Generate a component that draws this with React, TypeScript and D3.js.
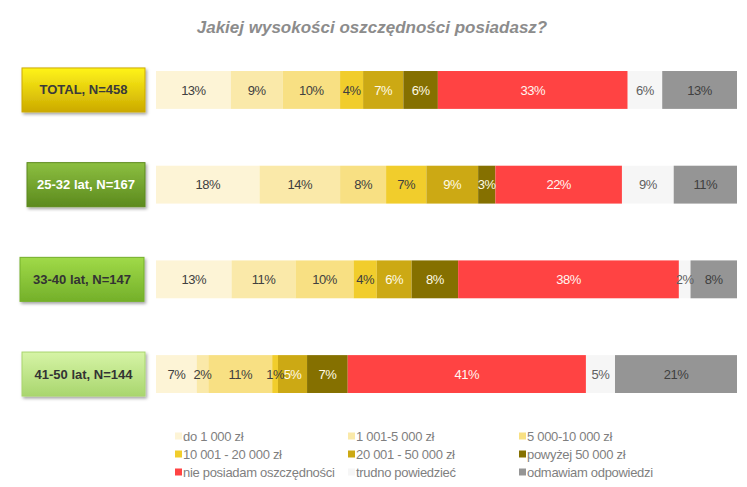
import React, { useEffect, useRef } from 'react'
import * as d3 from 'd3'

// Savings brackets, in stacking order
const brackets = [
  'do 1 000 zł',
  '1 001-5 000 zł',
  '5 000-10 000 zł',
  '10 001 - 20 000 zł',
  '20 001 - 50 000 zł',
  'powyżej 50 000 zł',
  'nie posiadam oszczędności',
  'trudno powiedzieć',
  'odmawiam odpowiedzi',
]

const groups = ['TOTAL, N=458', '25-32 lat, N=167', '33-40 lat, N=147', '41-50 lat, N=144']

// Percent answers per group, one value per bracket
const totalValues = [13, 9, 10, 4, 7, 6, 33, 6, 13]
const age2532Values = [18, 14, 8, 7, 9, 3, 22, 9, 11]
const age3340Values = [13, 11, 10, 4, 6, 8, 38, 2, 8]
const age4150Values = [7, 2, 11, 1, 5, 7, 41, 5, 21]

const groupValues = [totalValues, age2532Values, age3340Values, age4150Values]

const bracketColors = [
  '#FDF4D6',
  '#FAE9A9',
  '#F8E083',
  '#F1CD2C',
  '#CCA914',
  '#857000',
  '#FF4343',
  '#F6F6F6',
  '#959595',
]
const labelColors = [
  '#404040',
  '#404040',
  '#404040',
  '#404040',
  '#FFFBE6',
  '#FFFBE6',
  '#FFF6F0',
  '#606060',
  '#404040',
]

// Gradient stops, text color and box extent for the group badges
const badgeTop = ['#FFF41A', '#8CBF40', '#A0DA48', '#D6F4A6']
const badgeBottom = ['#CCAA00', '#5C8A1E', '#74B02A', '#A9D66E']
const badgeText = ['#3A3A3A', '#FFFFFF', '#333333', '#333333']
const badgeLeft = [22, 27, 20, 22]
const badgeRight = [145, 145, 144, 145]

const W = 747
const H = 487
const FONT = "'Liberation Sans', Arial, sans-serif"

export default function App() {
  const svgRef = useRef<SVGSVGElement>(null)

  useEffect(() => {
    if (!svgRef.current) return
    const svg = d3.select(svgRef.current)
    svg.selectAll('*').remove()

    const rows = groups.map((g, i) => {
      const row: Record<string, any> = { group: g }
      brackets.forEach((b, j) => (row[b] = groupValues[i][j]))
      return row
    })

    const series = d3
      .stack<Record<string, any>>()
      .keys(brackets)
      .offset(d3.stackOffsetExpand)(rows)

    const x = d3.scaleLinear().domain([0, 1]).range([156, 737])
    const y = d3
      .scaleBand()
      .domain(groups)
      .range([42.6, 421.4])
      .paddingInner(0.6)
      .paddingOuter(0.3)

    const defs = svg.append('defs')
    const shadow = defs
      .append('filter')
      .attr('id', 'badge-shadow')
      .attr('x', '-10%')
      .attr('y', '-20%')
      .attr('width', '130%')
      .attr('height', '160%')
    shadow
      .append('feDropShadow')
      .attr('dx', 1.5)
      .attr('dy', 2)
      .attr('stdDeviation', 1.5)
      .attr('flood-color', '#000')
      .attr('flood-opacity', 0.35)

    groups.forEach((_, i) => {
      const grad = defs
        .append('linearGradient')
        .attr('id', `badge-grad-${i}`)
        .attr('x1', 0)
        .attr('y1', 0)
        .attr('x2', 0)
        .attr('y2', 1)
      grad.append('stop').attr('offset', '0%').attr('stop-color', badgeTop[i])
      grad.append('stop').attr('offset', '100%').attr('stop-color', badgeBottom[i])
    })

    // Title
    svg
      .append('text')
      .attr('x', 372)
      .attr('y', 33)
      .attr('text-anchor', 'middle')
      .attr('font-family', FONT)
      .attr('font-size', 17)
      .attr('font-weight', 'bold')
      .attr('font-style', 'italic')
      .attr('fill', '#8C8C8C')
      .text('Jakiej wysokości oszczędności posiadasz?')

    // Stacked segments
    const layer = svg
      .append('g')
      .selectAll('g')
      .data(series)
      .join('g')
      .attr('fill', (_, i) => bracketColors[i])

    layer
      .selectAll('rect')
      .data((d) => d)
      .join('rect')
      .attr('x', (d) => x(d[0]))
      .attr('y', (d) => y(d.data.group as string)!)
      .attr('width', (d) => x(d[1]) - x(d[0]))
      .attr('height', y.bandwidth())

    // Segment value labels
    series.forEach((s, i) => {
      svg
        .append('g')
        .selectAll('text')
        .data(s)
        .join('text')
        .attr('x', (d) => (x(d[0]) + x(d[1])) / 2)
        .attr('y', (d) => y(d.data.group as string)! + y.bandwidth() / 2)
        .attr('dy', '0.35em')
        .attr('text-anchor', 'middle')
        .attr('font-family', FONT)
        .attr('font-size', 13)
        .attr('letter-spacing', -0.5)
        .attr('fill', labelColors[i])
        .text((d) => `${d.data[s.key]}%`)
    })

    // Group badges on the left
    const badge = svg
      .append('g')
      .selectAll('g')
      .data(groups)
      .join('g')
      .attr('transform', (g, i) => `translate(${badgeLeft[i]},${y(g)! + y.bandwidth() / 2 - 22})`)

    badge
      .append('rect')
      .attr('width', (_, i) => badgeRight[i] - badgeLeft[i])
      .attr('height', 44)
      .attr('fill', (_, i) => `url(#badge-grad-${i})`)
      .attr('stroke', (_, i) => badgeBottom[i])
      .attr('stroke-width', 1)
      .attr('filter', 'url(#badge-shadow)')

    badge
      .append('text')
      .attr('x', (_, i) => (badgeRight[i] - badgeLeft[i]) / 2)
      .attr('y', 22)
      .attr('dy', '0.35em')
      .attr('text-anchor', 'middle')
      .attr('font-family', FONT)
      .attr('font-size', 13)
      .attr('font-weight', 'bold')
      .attr('fill', (_, i) => badgeText[i])
      .text((g) => g)

    // Legend, three columns
    const colX = [175, 348, 519]
    const rowY = [436, 454, 472]
    const legend = svg
      .append('g')
      .selectAll('g')
      .data(brackets)
      .join('g')
      .attr('transform', (_, i) => `translate(${colX[i % 3]},${rowY[Math.floor(i / 3)]})`)

    legend
      .append('rect')
      .attr('x', 0)
      .attr('y', -3.5)
      .attr('width', 7)
      .attr('height', 7)
      .attr('fill', (_, i) => bracketColors[i])

    legend
      .append('text')
      .attr('x', 8)
      .attr('dy', '0.35em')
      .attr('font-family', FONT)
      .attr('font-size', 13)
      .attr('letter-spacing', -0.3)
      .attr('fill', '#7F7F7F')
      .text((d) => d)
  }, [])

  return (
    <div style={{ position: 'absolute', left: 0, top: 0 }}>
      <svg ref={svgRef} width={W} height={H} style={{ display: 'block', background: '#fff' }} />
    </div>
  )
}
